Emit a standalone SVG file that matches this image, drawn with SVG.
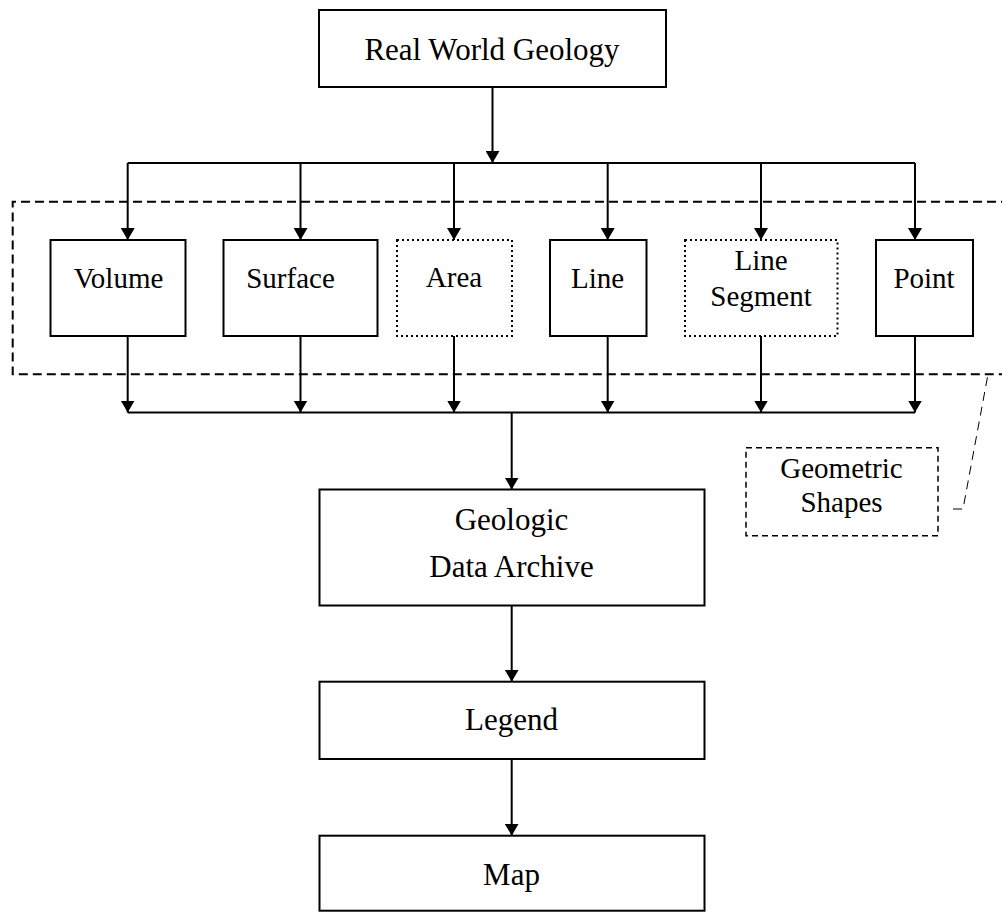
<svg xmlns="http://www.w3.org/2000/svg" width="1002" height="912" viewBox="0 0 1002 912">
  <style>
    .box { fill: #ffffff; stroke: #000000; stroke-width: 2; }
    .dotbox { fill: #ffffff; stroke: #000000; stroke-width: 2; stroke-dasharray: 2 3; }
    .dashbox { fill: #ffffff; stroke: #000000; stroke-width: 1.5; stroke-dasharray: 6 4; }
    .group { fill: none; stroke: #000000; stroke-width: 2; stroke-dasharray: 9 5; }
    .leader { fill: none; stroke: #000000; stroke-width: 1; stroke-dasharray: 9 6; }
    .conn { fill: none; stroke: #000000; stroke-width: 2; }
    .arr { marker-end: url(#ah); }
    text { font-family: "Liberation Serif", "Times New Roman", serif; fill: #000000; text-anchor: middle; }
    .lg { font-size: 31px; }
    .sm { font-size: 29px; }
  </style>
  <defs>
    <marker id="ah" viewBox="0 0 12 14" refX="12" refY="7" markerWidth="12" markerHeight="14" markerUnits="userSpaceOnUse" orient="auto">
      <path d="M0,0 L12,7 L0,14 z" fill="#000000"/>
    </marker>
  </defs>
  <rect width="1002" height="912" fill="#ffffff"/>

  <g id="geometric-shapes-group">
    <path class="group" d="M1010,201.7 H12.7 V374.3 H1010"/>
  </g>

  <g id="connectors">
    <line class="conn arr" x1="492.5" y1="87" x2="492.5" y2="163"/>
    <line class="conn" x1="127.7" y1="163" x2="915" y2="163"/>
    <line class="conn arr" x1="127.7" y1="163" x2="127.7" y2="240"/>
    <line class="conn arr" x1="300.5" y1="163" x2="300.5" y2="240"/>
    <line class="conn arr" x1="454" y1="163" x2="454" y2="240"/>
    <line class="conn arr" x1="607.7" y1="163" x2="607.7" y2="240"/>
    <line class="conn arr" x1="761" y1="163" x2="761" y2="240"/>
    <line class="conn arr" x1="915" y1="163" x2="915" y2="240"/>
    <line class="conn arr" x1="127.7" y1="336" x2="127.7" y2="412.5"/>
    <line class="conn arr" x1="300.5" y1="336" x2="300.5" y2="412.5"/>
    <line class="conn arr" x1="454" y1="336" x2="454" y2="412.5"/>
    <line class="conn arr" x1="607.7" y1="336" x2="607.7" y2="412.5"/>
    <line class="conn arr" x1="761" y1="336" x2="761" y2="412.5"/>
    <line class="conn arr" x1="915" y1="336" x2="915" y2="412.5"/>
    <line class="conn" x1="127.7" y1="412.5" x2="915" y2="412.5"/>
    <line class="conn arr" x1="511.7" y1="412.5" x2="511.7" y2="489.5"/>
    <line class="conn arr" x1="511.7" y1="605.7" x2="511.7" y2="681.7"/>
    <line class="conn arr" x1="511.7" y1="759" x2="511.7" y2="835.7"/>
    <path class="leader" d="M953,509 L963,509 L988,374.3"/>
  </g>

  <g id="real-world-geology">
    <rect class="box" x="319" y="10" width="347" height="77"/>
    <text class="lg" x="492" y="59.5">Real World Geology</text>
  </g>

  <g id="volume">
    <rect class="box" x="50.5" y="240" width="135" height="96"/>
    <text class="sm" x="118.5" y="287.7">Volume</text>
  </g>

  <g id="surface">
    <rect class="box" x="223.5" y="240" width="154" height="96"/>
    <text class="sm" x="290.5" y="287.7">Surface</text>
  </g>

  <g id="area">
    <rect class="dotbox" x="397" y="240" width="115" height="96"/>
    <text class="sm" x="454" y="287">Area</text>
  </g>

  <g id="line">
    <rect class="box" x="550" y="240" width="96.5" height="96"/>
    <text class="sm" x="597.5" y="287.5">Line</text>
  </g>

  <g id="line-segment">
    <rect class="dotbox" x="685" y="240" width="152.5" height="96"/>
    <text class="sm" x="761" y="270">Line</text>
    <text class="sm" x="761" y="306">Segment</text>
  </g>

  <g id="point">
    <rect class="box" x="876" y="240" width="97" height="96"/>
    <text class="sm" x="924" y="287.5">Point</text>
  </g>

  <g id="geometric-shapes">
    <rect class="dashbox" x="746" y="447.7" width="192" height="88"/>
    <text class="sm" x="841.5" y="478.3">Geometric</text>
    <text class="sm" x="841.5" y="511.7">Shapes</text>
  </g>

  <g id="geologic-data-archive">
    <rect class="box" x="319.5" y="489.5" width="385" height="116"/>
    <text class="lg" x="511.5" y="530">Geologic</text>
    <text class="lg" x="511.5" y="576.7">Data Archive</text>
  </g>

  <g id="legend">
    <rect class="box" x="319.5" y="681.7" width="385" height="77.3"/>
    <text class="lg" x="511.5" y="730">Legend</text>
  </g>

  <g id="map">
    <rect class="box" x="319.5" y="835.7" width="385" height="75"/>
    <text class="lg" x="511.5" y="885">Map</text>
  </g>
</svg>
